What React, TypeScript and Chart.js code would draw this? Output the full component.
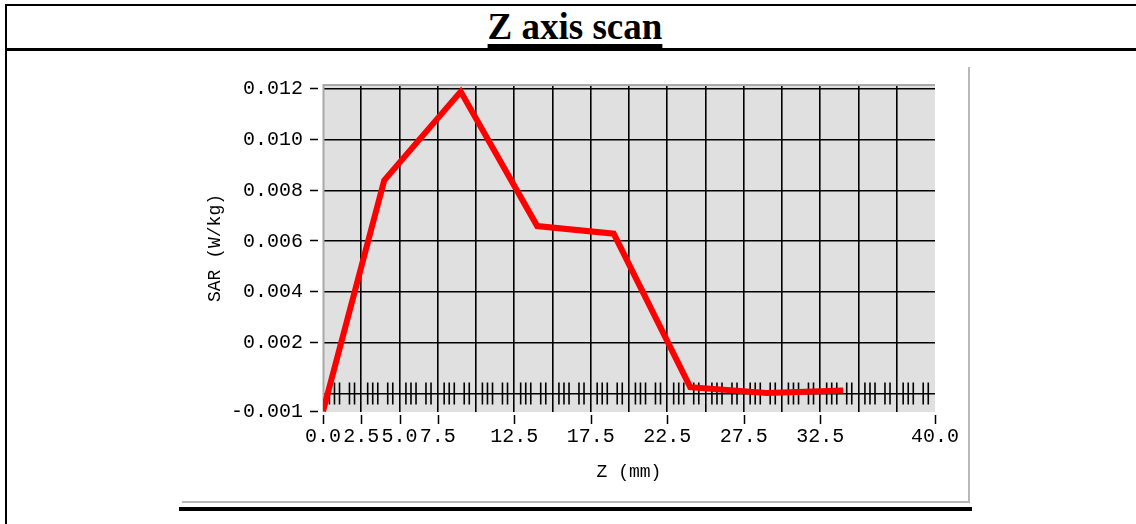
import React, { useEffect, useRef } from "react";
import { Chart, registerables } from "chart.js";

Chart.register(...registerables);

// ---- data ----
const Z_MM = [0, 4, 9, 14, 19, 24, 29, 34];
const SAR = [-0.0007, 0.0084, 0.0119, 0.0066, 0.0063, 0.00025, 0.00002, 0.00012];

// ---- axes ----
const X_MIN = 0;
const X_MAX = 40;
const X_STEP = 2.5;
const X_LABELLED = [0, 2.5, 5, 7.5, 12.5, 17.5, 22.5, 27.5, 32.5, 40];
const Y_MIN = -0.00073;
const Y_MAX = 0.0122;
const Y_TICKS = [-0.00073, 0, 0.002, 0.004, 0.006, 0.008, 0.01, 0.012];
const Y_LABELLED = [-0.00073, 0.002, 0.004, 0.006, 0.008, 0.01, 0.012];
// minor tick offsets (mm) inside each 2.5 mm interval, drawn on the zero line
const MINOR_OFFSETS = [0.42, 0.75, 1.08, 1.73, 2.06];

const TITLE = "Z axis scan";
const X_TITLE = "Z (mm)";
const Y_TITLE = "SAR (W/kg)";

const MONO = "'Liberation Mono', monospace";

const decorPlugin = {
  id: "decor",
  beforeDraw(chart: any) {
    const { ctx, chartArea: a } = chart;
    ctx.save();
    ctx.fillStyle = "#e0e0e0";
    ctx.fillRect(a.left, a.top, a.right - a.left, a.bottom - a.top);
    ctx.restore();
  },
  beforeDatasetsDraw(chart: any) {
    const { ctx, chartArea: a, scales } = chart;
    const xs = scales.x;
    const ys = scales.y;
    ctx.save();
    // gray frame top / left
    ctx.strokeStyle = "#a8a8a8";
    ctx.lineWidth = 2;
    ctx.beginPath();
    ctx.moveTo(a.left, a.top + 1);
    ctx.lineTo(a.right, a.top + 1);
    ctx.moveTo(a.left + 0.5, a.top);
    ctx.lineTo(a.left + 0.5, a.bottom);
    ctx.stroke();
    // minor ticks on the zero line
    const y0 = ys.getPixelForValue(0);
    ctx.strokeStyle = "#000";
    ctx.lineWidth = 1.6;
    ctx.beginPath();
    for (let base = X_MIN; base < X_MAX; base += X_STEP) {
      for (const off of MINOR_OFFSETS) {
        const px = xs.getPixelForValue(base + off);
        ctx.moveTo(px, y0 - 11);
        ctx.lineTo(px, y0 + 11);
      }
    }
    ctx.stroke();
    ctx.restore();
  },
  afterDraw(chart: any) {
    const { ctx, chartArea: a, scales } = chart;
    const xs = scales.x;
    const ys = scales.y;
    ctx.save();
    ctx.strokeStyle = "#000";
    ctx.lineWidth = 1.5;
    ctx.beginPath();
    for (const v of X_LABELLED) {
      const px = Math.round(xs.getPixelForValue(v)) + 0.5;
      ctx.moveTo(px, a.bottom + 3);
      ctx.lineTo(px, a.bottom + 12);
    }
    for (const v of Y_LABELLED) {
      const py = Math.round(ys.getPixelForValue(v)) - 1 + 0.5;
      ctx.moveTo(a.left - 13, py);
      ctx.lineTo(a.left - 5, py);
    }
    ctx.stroke();
    ctx.restore();
  },
};

export default function App() {
  const ref = useRef<HTMLCanvasElement>(null);

  useEffect(() => {
    const chart = new Chart(ref.current as HTMLCanvasElement, {
      type: "line",
      data: {
        datasets: [
          {
            data: Z_MM.map((z, i) => ({ x: z, y: SAR[i] })),
            borderColor: "#ff0000",
            borderWidth: 6,
            pointRadius: 0,
            tension: 0,
            fill: false,
          },
        ],
      },
      options: {
        responsive: false,
        animation: false,
        events: [],
        layout: { padding: { left: 204, right: 201, top: 84, bottom: 41 } },
        plugins: {
          legend: { display: false },
          tooltip: { enabled: false },
          title: { display: false },
        },
        scales: {
          x: {
            type: "linear",
            min: X_MIN,
            max: X_MAX,
            border: { display: false },
            grid: {
              drawTicks: false,
              lineWidth: 1.6,
              color: (c: any) =>
                c.tick && (c.tick.value === X_MIN || c.tick.value === X_MAX) ? "rgba(0,0,0,0)" : "#000",
            },
            ticks: {
              stepSize: X_STEP,
              autoSkip: false,
              maxRotation: 0,
              padding: 13,
              color: "#000",
              font: { family: MONO, size: 20 },
              callback: (v: any) => (X_LABELLED.includes(Number(v)) ? Number(v).toFixed(1) : ""),
            },
            title: {
              display: true,
              text: X_TITLE,
              color: "#000",
              padding: 0,
              font: { family: MONO, size: 18 },
            },
            afterFit: (s: any) => {
              s.height = 71;
            },
          },
          y: {
            type: "linear",
            min: Y_MIN,
            max: Y_MAX,
            border: { display: false },
            grid: {
              drawTicks: false,
              lineWidth: 1.6,
              color: (c: any) => (c.tick && c.tick.value < 0 ? "rgba(0,0,0,0)" : "#000"),
            },
            afterBuildTicks: (s: any) => {
              s.ticks = Y_TICKS.map((v) => ({ value: v }));
            },
            ticks: {
              padding: 20,
              color: "#000",
              font: { family: MONO, size: 20 },
              callback: (v: any) => (Number(v) === 0 ? "" : Number(v).toFixed(3)),
            },
            title: {
              display: true,
              text: Y_TITLE,
              color: "#000",
              padding: 0,
              font: { family: MONO, size: 18 },
            },
            afterFit: (s: any) => {
              s.width = 119;
            },
          },
        },
      },
      plugins: [decorPlugin],
    } as any);
    return () => chart.destroy();
  }, []);

  const line = (l: number, t: number, w: number, h: number, c: string) => (
    <div style={{ position: "absolute", left: l, top: t, width: w, height: h, background: c }} />
  );

  return (
    <div
      style={{
        position: "absolute",
        left: 0,
        top: 0,
        width: 1136,
        height: 524,
        background: "#fff",
        overflow: "hidden",
      }}
    >
      {line(5, 4, 1131, 2, "#000")}
      {line(5, 4, 2, 520, "#000")}
      {line(5, 48, 1131, 3, "#000")}
      <div
        style={{
          position: "absolute",
          left: 6,
          top: 8,
          width: 1138,
          textAlign: "center",
          fontFamily: "'Liberation Serif', serif",
          fontWeight: "bold",
          fontSize: 37,
          lineHeight: "37px",
          textDecoration: "underline",
          textDecorationThickness: "4px",
          textUnderlineOffset: "5px",
          color: "#000",
        }}
      >
        {TITLE}
      </div>
      {line(182, 501, 787, 2, "#b8b8b8")}
      {line(968, 67, 2, 436, "#b8b8b8")}
      {line(179, 507, 793, 4, "#000")}
      <canvas
        ref={ref}
        width={1136}
        height={524}
        style={{ position: "absolute", left: 0, top: 0 }}
      />
    </div>
  );
}
